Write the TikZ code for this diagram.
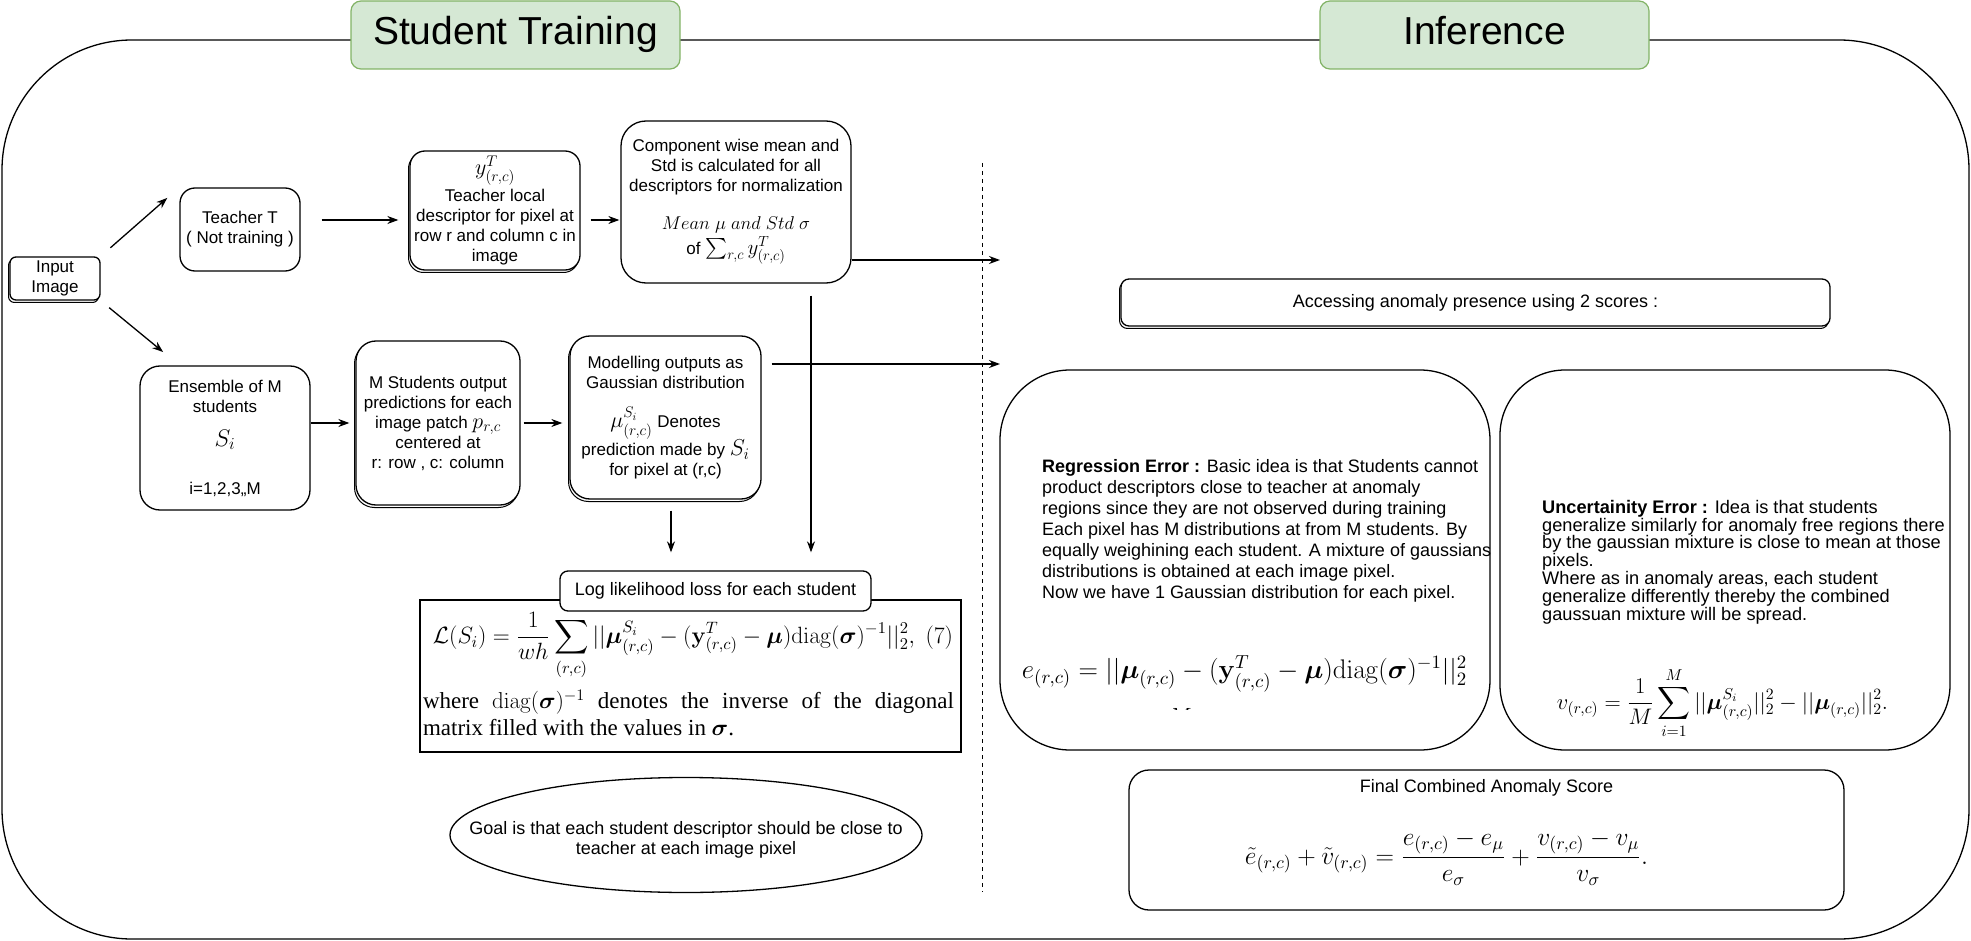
\RequirePackage{fix-cm}
\documentclass[tikz,border=0pt]{standalone}
\usepackage{amsmath}
\usepackage[no-math]{fontspec}
\setmainfont{Liberation Sans}
\newfontfamily\paperfont{Liberation Serif}
\usepackage{tikz}
\usetikzlibrary{arrows.meta,shapes.geometric,shadows}
\definecolor{headfill}{HTML}{D5E8D4}
\definecolor{headline}{HTML}{82B366}
\newcommand{\bxmath}[2][21]{{\fontsize{#1}{24}\selectfont$#2$}}

\begin{document}
\begin{tikzpicture}[x=1pt, y=-1pt,
  every node/.style={font=\fontsize{17}{20}\selectfont, align=center, inner sep=2pt},
  roundbox/.style={draw, line width=1.3pt, fill=white, rounded corners=12pt},
  stackbox/.style={roundbox, copy shadow={shadow xshift=-1.5pt, shadow yshift=-2.5pt, line width=1pt}},
  bigbox/.style={roundbox, rounded corners=70pt},
  headbox/.style={draw=headline, line width=1.2pt, fill=headfill, rounded corners=10pt, minimum width=329pt, minimum height=68pt, text height=28pt, text depth=8pt, font=\fontsize{39}{44}\selectfont},
  mathbox/.style={inner sep=0pt},
  arr/.style={line width=1.3pt, -{Stealth[length=11pt, width=8pt]}}]
\useasboundingbox (0,0) rectangle (1971,941);

\node[roundbox, fill=none, rounded corners=130pt, minimum width=1967pt, minimum height=899pt] (frame) at (985.5,489.5) {};
\node[headbox] (headtrain) at (515.5,35) {Student Training};
\node[headbox] (headinfer) at (1484.5,35) {Inference};

\node[stackbox, rounded corners=6pt, minimum width=90pt, minimum height=43pt, inner sep=0pt] (input) at (55,278.5) {Input\\Image};
\node[roundbox, rounded corners=15pt, minimum width=120pt, minimum height=83pt] (teacher) at (240,229.5) {Teacher T\\( Not training )};
\node[stackbox, rounded corners=15pt, minimum width=170pt, minimum height=119pt] (tlocal) at (495,210.5) {\bxmath[22]{y^T_{(r,c)}}\\[2pt]Teacher local\\descriptor for pixel at\\row r and column c in\\image};
\node[roundbox, rounded corners=25pt, minimum width=230pt, minimum height=162pt] (comp) at (736,202) {Component wise mean and\\Std is calculated for all\\descriptors for normalization\\[18pt]\bxmath[18.5]{Mean\;\mu\;and\;Std\;\sigma}\\[2pt]of \bxmath[21]{\sum_{r,c} y^T_{(r,c)}}};
\node[roundbox, rounded corners=20pt, minimum width=170pt, minimum height=144pt] (ens) at (225,438) {Ensemble of M\\students\\[14pt]\bxmath[24]{S_i}\\[28pt]i=1,2,3,,M};
\node[stackbox, rounded corners=20pt, minimum width=164pt, minimum height=164pt] (mstud) at (438,423) {M Students output\\predictions for each\\image patch \bxmath[22]{p_{r,c}}\\centered at\\r: row , c: column};
\node[stackbox, rounded corners=20pt, minimum width=191pt, minimum height=163pt] (model) at (665.5,417.5) {Modelling outputs as\\Gaussian distribution\\[18pt]\bxmath[22]{\mu^{S_i}_{(r,c)}} Denotes\\prediction made by \bxmath[23]{S_i}\\for pixel at (r,c)};

\node[draw, line width=1.3pt, minimum width=541pt, minimum height=152pt] (lossbox) at (690.5,676) {};
\node[roundbox, rounded corners=8pt, minimum width=311pt, minimum height=40pt, font=\fontsize{18}{21}\selectfont] (loglbl) at (715.5,591) {Log likelihood loss for each student};
\node[mathbox] (lossfml) at (693,646) {\resizebox{520pt}{!}{$\displaystyle \mathcal{L}(S_i)=\frac{1}{wh}\sum_{(r,c)}||\boldsymbol{\mu}^{S_i}_{(r,c)}-(\mathbf{y}^{T}_{(r,c)}-\boldsymbol{\mu})\mathrm{diag}(\boldsymbol{\sigma})^{-1}||_2^2,\ \mathrm{(7)}$}};
\node[mathbox] (losstext) at (688.5,713) {\parbox{531pt}{\fontsize{23}{27}\paperfont where $\mathrm{diag}(\boldsymbol{\sigma})^{-1}$ denotes the inverse of the diagonal\linebreak matrix filled with the values in $\boldsymbol{\sigma}$.}};

\node[draw, ellipse, line width=1.3pt, minimum width=472pt, minimum height=115pt] (goal) at (686,835) {};
\node[font=\fontsize{18}{20}\selectfont] (goaltext) at (686,840) {Goal is that each student descriptor should be close to\\teacher at each image pixel};

\node[stackbox, rounded corners=8pt, minimum width=709pt, minimum height=47pt, font=\fontsize{18}{21}\selectfont] (access) at (1475.5,302.5) {Accessing anomaly presence using 2 scores :};

\node[bigbox, minimum width=490pt, minimum height=380pt] (regbox) at (1245,560) {};
\node[anchor=north west, align=left, inner sep=0pt, font=\fontsize{18}{21}\selectfont] (regtext) at (1042,459) {\textbf{Regression Error :} Basic idea is that Students cannot\\product descriptors close to teacher at anomaly\\regions since they are not observed during training\\Each pixel has M distributions at from M students. By\\equally weighining each student. A mixture of gaussians\\distributions is obtained at each image pixel.\\Now we have 1 Gaussian distribution for each pixel.};
\node[mathbox] (regfml) at (1244.5,674) {\resizebox{445pt}{!}{$e_{(r,c)}=||\boldsymbol{\mu}_{(r,c)}-(\mathbf{y}^{T}_{(r,c)}-\boldsymbol{\mu})\mathrm{diag}(\boldsymbol{\sigma})^{-1}||_2^2$}};
\begin{scope}
\clip (1160,702) rectangle (1200,709);
\node[font=\fontsize{22}{24}\selectfont] (regcut) at (1180,716) {$M$};
\end{scope}

\node[bigbox, rounded corners=65pt, minimum width=450pt, minimum height=380pt] (uncbox) at (1725,560) {};
\node[anchor=north west, align=left, inner sep=0pt, font=\fontsize{18.2}{17.8}\selectfont] (unctext) at (1542,500) {\textbf{Uncertainity Error :} Idea is that students\\generalize similarly for anomaly free regions there\\by the gaussian mixture is close to mean at those\\pixels.\\Where as in anomaly areas, each student\\generalize differently thereby the combined\\gaussuan mixture will be spread.};
\node[mathbox] (uncfml) at (1722.5,703) {\resizebox{331pt}{!}{$\displaystyle v_{(r,c)}=\frac{1}{M}\sum_{i=1}^{M}||\boldsymbol{\mu}^{S_i}_{(r,c)}||_2^2-||\boldsymbol{\mu}_{(r,c)}||_2^2.$}};

\node[roundbox, rounded corners=20pt, minimum width=715pt, minimum height=140pt] (finalbox) at (1486.5,840) {};
\node[font=\fontsize{18}{21}\selectfont] (finaltitle) at (1486.5,788) {Final Combined Anomaly Score};
\node[mathbox] (finalfml) at (1446.5,858) {\resizebox{403pt}{!}{$\displaystyle \tilde{e}_{(r,c)}+\tilde{v}_{(r,c)}=\frac{e_{(r,c)}-e_{\mu}}{e_{\sigma}}+\frac{v_{(r,c)}-v_{\mu}}{v_{\sigma}}.$}};

\coordinate (infin1) at (1000,260);
\coordinate (infin2) at (1000,364);
\draw[dashed, dash pattern=on 4pt off 4pt, line width=1pt] (982,163) -- (982,892);

\draw[arr, shorten <=13pt, shorten >=16pt] (input.north east) -- (teacher.north west);
\draw[arr, shorten <=11pt, shorten >=21pt] (input.south east) -- ([xshift=40pt]ens.north west);
\draw[arr, shorten <=21pt, shorten >=11pt] ([yshift=9.5pt]teacher.east) -- ([yshift=9.5pt]teacher.east -| tlocal.west);
\draw[arr, shorten <=10pt, shorten >=1pt] ([yshift=-9.5pt]tlocal.east) -- ([yshift=-9.5pt]tlocal.east -| comp.west);
\draw[arr, shorten >=6pt] (ens.east |- mstud.west) -- (mstud.west);
\draw[arr, shorten <=3pt, shorten >=7pt] (mstud.east) -- (mstud.east -| model.west);
\draw[arr] (comp.east |- infin1) -- (infin1);
\draw[arr, shorten <=10pt] (model.east |- infin2) -- (infin2);
\draw[arr, shorten <=12pt, shorten >=18pt] ([xshift=75pt]comp.south) -- ([xshift=75pt]comp.south |- loglbl.north);
\draw[arr, shorten <=11pt, shorten >=18pt] ([xshift=5.5pt]model.south) -- ([xshift=5.5pt]model.south |- loglbl.north);
\end{tikzpicture}
\end{document}
